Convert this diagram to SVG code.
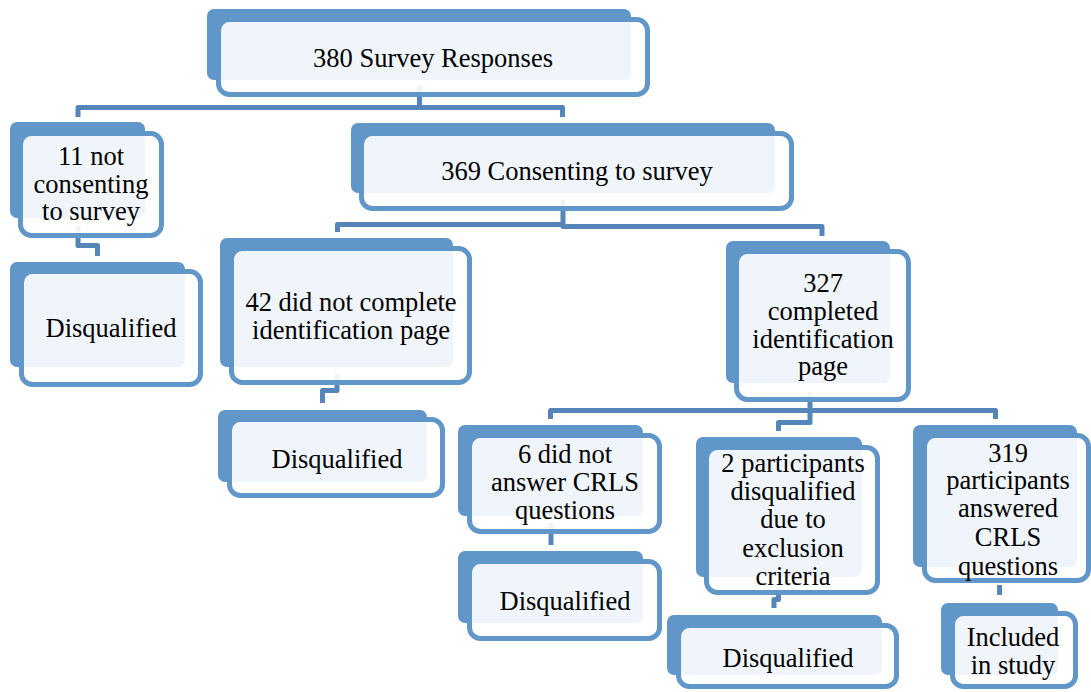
<svg xmlns="http://www.w3.org/2000/svg" width="1091" height="692" viewBox="0 0 1091 692">
<style>
.bk{fill:#6196c8}
.fr{fill:#ffffff;fill-opacity:0.9;stroke:#6196c8;stroke-width:5}
.t{font-family:"Liberation Serif","Times New Roman",serif;font-size:26.5px;fill:#000;text-anchor:middle}
.cn{fill:none;stroke:#5686b9;stroke-width:5;stroke-linejoin:round}
</style>
<rect width="1091" height="692" fill="#ffffff"/>
<g id="connectors">
<path class="cn" d="M419.5,85 V107.5 H78 V117"/>
<path class="cn" d="M419.5,107.5 H562.5 V117"/>
<path class="cn" d="M78,226 V245.5 H97.5 V256"/>
<path class="cn" d="M563,200 V224.5 H337.5 V232"/>
<path class="cn" d="M563,224.5 V226.5 H822 V236"/>
<path class="cn" d="M337,374 V390.5 H322.5 V403"/>
<path class="cn" d="M810,392 V410.5 H550.5 V419"/>
<path class="cn" d="M810,410.5 H995.5 V419"/>
<path class="cn" d="M810,410.5 V422.5 H778.5 V431"/>
<path class="cn" d="M551,523 V545"/>
<path class="cn" d="M778.5,588 V599.5 H774 V608"/>
<path class="cn" d="M999.5,585 V595"/>
</g>
<g id="n380">
<rect class="bk" x="207" y="9" width="424" height="71" rx="7"/>
<rect class="fr" x="218.5" y="19.5" width="429" height="75" rx="11"/>
<text class="t" x="433" y="67">380 Survey Responses</text>
</g>
<g id="n11">
<rect class="bk" x="10" y="122" width="135" height="96" rx="7"/>
<rect class="fr" x="20.5" y="133.5" width="141" height="102" rx="11"/>
<text class="t" x="91" y="165">11 not</text>
<text class="t" x="91" y="192.5">consenting</text>
<text class="t" x="91" y="220">to survey</text>
</g>
<g id="disq1">
<rect class="bk" x="10" y="262" width="175" height="105" rx="7"/>
<rect class="fr" x="21.5" y="271.5" width="179" height="113" rx="11"/>
<text class="t" x="111" y="337">Disqualified</text>
</g>
<g id="n369">
<rect class="bk" x="351" y="123" width="424" height="70" rx="7"/>
<rect class="fr" x="361.5" y="133.5" width="430" height="75" rx="11"/>
<text class="t" x="577" y="180">369 Consenting to survey</text>
</g>
<g id="n42">
<rect class="bk" x="220" y="238" width="233" height="129" rx="7"/>
<rect class="fr" x="231.5" y="248.5" width="238" height="134" rx="11"/>
<text class="t" x="351" y="311">42 did not complete</text>
<text class="t" x="351" y="339">identification page</text>
</g>
<g id="disq2">
<rect class="bk" x="218" y="410" width="209" height="72" rx="7"/>
<rect class="fr" x="229.5" y="419.5" width="213" height="76" rx="11"/>
<text class="t" x="337" y="468">Disqualified</text>
</g>
<g id="n327">
<rect class="bk" x="726" y="241" width="164" height="142" rx="7"/>
<rect class="fr" x="736.5" y="251.5" width="172" height="148" rx="11"/>
<text class="t" x="823" y="292">327</text>
<text class="t" x="823" y="319.5">completed</text>
<text class="t" x="823" y="347.5">identification</text>
<text class="t" x="823" y="375">page</text>
</g>
<g id="n6">
<rect class="bk" x="458" y="425" width="185" height="91" rx="7"/>
<rect class="fr" x="469.5" y="435.5" width="190" height="96" rx="11"/>
<text class="t" x="565" y="463">6 did not</text>
<text class="t" x="565" y="491">answer CRLS</text>
<text class="t" x="565" y="519">questions</text>
</g>
<g id="disq3">
<rect class="bk" x="458" y="551" width="185" height="72" rx="7"/>
<rect class="fr" x="469.5" y="561.5" width="190" height="77" rx="11"/>
<text class="t" x="565" y="610">Disqualified</text>
</g>
<g id="n2">
<rect class="bk" x="696" y="437" width="166" height="140" rx="7"/>
<rect class="fr" x="706.5" y="447.5" width="171" height="145" rx="11"/>
<text class="t" x="793" y="471.5">2 participants</text>
<text class="t" x="793" y="499.5">disqualified</text>
<text class="t" x="793" y="528">due to</text>
<text class="t" x="793" y="556.5">exclusion</text>
<text class="t" x="793" y="585">criteria</text>
</g>
<g id="disq4">
<rect class="bk" x="667" y="615" width="215" height="60" rx="7"/>
<rect class="fr" x="678.5" y="625.5" width="218" height="61" rx="11"/>
<text class="t" x="788" y="667">Disqualified</text>
</g>
<g id="n319">
<rect class="bk" x="913" y="425" width="164" height="142" rx="7"/>
<rect class="fr" x="924.5" y="435.5" width="164" height="145" rx="11"/>
<text class="t" x="1008" y="461.5">319</text>
<text class="t" x="1008" y="489">participants</text>
<text class="t" x="1008" y="517">answered</text>
<text class="t" x="1008" y="546">CRLS</text>
<text class="t" x="1008" y="574.5">questions</text>
</g>
<g id="included">
<rect class="bk" x="941" y="603" width="117" height="72" rx="7"/>
<rect class="fr" x="952.5" y="613.5" width="123" height="73" rx="11"/>
<text class="t" x="1013" y="646">Included</text>
<text class="t" x="1013" y="674">in study</text>
</g>
</svg>
